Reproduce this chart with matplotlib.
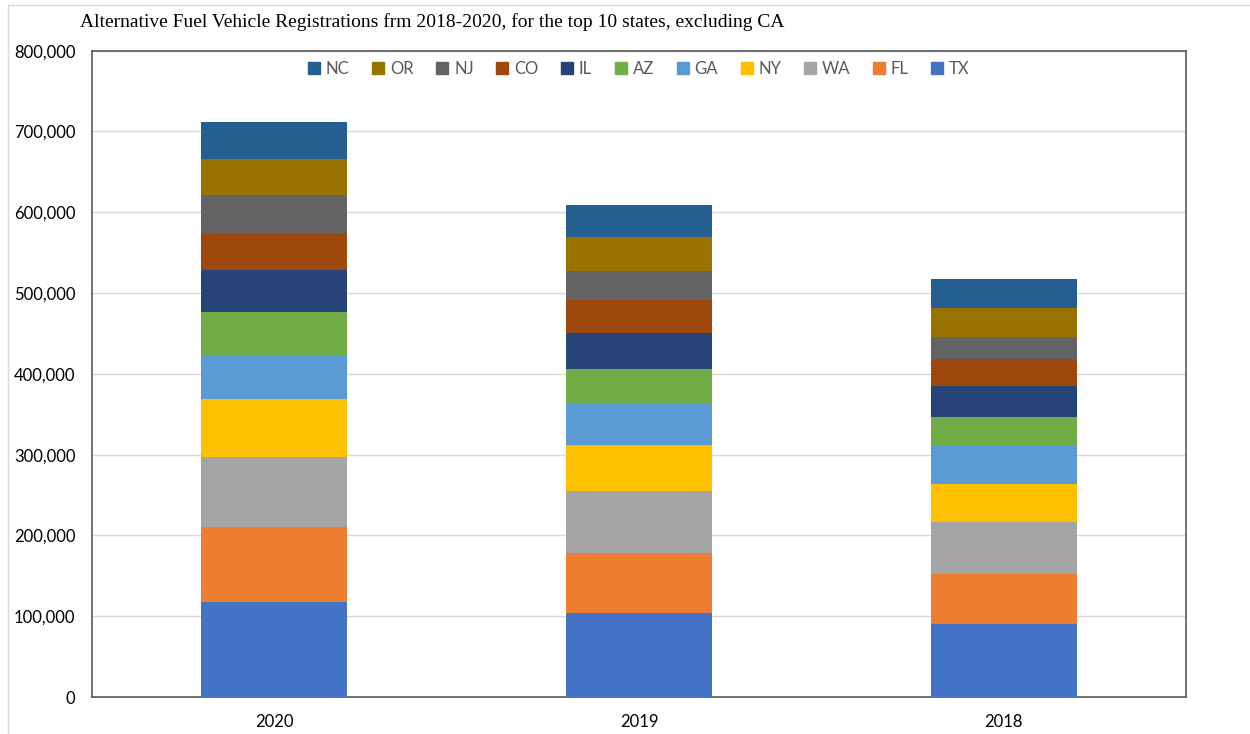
import matplotlib
matplotlib.use("Agg")
import matplotlib.pyplot as plt
from matplotlib.lines import Line2D
from matplotlib.ticker import FuncFormatter
import numpy as np

years = ["2020", "2019", "2018"]
states = ["TX", "FL", "WA", "NY", "GA", "AZ", "IL", "CO", "NJ", "OR", "NC"]

# registrations per state, ordered as the years list
TX = [117200, 103500, 90800]
FL = [93000, 75300, 61100]
WA = [87100, 76400, 65300]
NY = [71300, 57000, 46700]
GA = [54500, 50800, 46700]
AZ = [54000, 42700, 35600]
IL = [51400, 45000, 39200]
CO = [46200, 40900, 33100]
NJ = [46800, 35600, 27300]
OR = [45000, 41700, 36300]
NC = [45500, 39700, 35200]

series = [TX, FL, WA, NY, GA, AZ, IL, CO, NJ, OR, NC]
colors = ["#4472C4", "#ED7D31", "#A5A5A5", "#FFC000", "#5B9BD5", "#70AD47",
          "#264478", "#9E480E", "#636363", "#997300", "#255E91"]

fig = plt.figure(figsize=(12.5, 7.34), dpi=100)
ax = fig.add_axes([92 / 1250, 1 - 697 / 734, (1186 - 92) / 1250, (697 - 50.7) / 734])

x = np.arange(len(years))
bottom = np.zeros(len(years))
handles = []
for name, vals, col in zip(states, series, colors):
    ax.bar(x, vals, width=0.4, bottom=bottom, color=col, linewidth=0, zorder=3, label=name)
    bottom += np.array(vals)

ax.set_xlim(-0.5, len(years) - 0.5)
ax.set_ylim(0, 800000)
ax.set_yticks(np.arange(0, 800001, 100000))
ax.yaxis.set_major_formatter(FuncFormatter(lambda v, p: f"{int(v):,}"))
ax.set_xticks(x)
ax.set_xticklabels(years)
ax.grid(axis="y", color="#D9D9D9", linewidth=1, zorder=0)
ax.tick_params(axis="both", length=0, labelsize=12, colors="#000000")
ax.tick_params(axis="y", pad=12)
ax.tick_params(axis="x", pad=12)
for lab in ax.get_xticklabels() + ax.get_yticklabels():
    lab.set_family("Lato")
for s in ax.spines.values():
    s.set_color("#595959")
    s.set_linewidth(1.2)

# legend lists states from the top of the stack down
for name, col in zip(states[::-1], colors[::-1]):
    handles.append(Line2D([], [], marker="s", linestyle="none", markersize=8,
                          markerfacecolor=col, markeredgecolor=col, label=name))
leg = ax.legend(handles=handles, loc="upper center", bbox_to_anchor=(0.5, 1.007),
                ncol=len(states), frameon=False, handlelength=0.7, handletextpad=0.35,
                columnspacing=1.38, prop={"family": "Lato", "size": 12})
for t in leg.get_texts():
    t.set_color("#595959")

fig.text(80 / 1250, 1 - 22 / 734, "Alternative Fuel Vehicle Registrations frm 2018-2020, for the top 10 states, excluding CA",
         family="Liberation Serif", fontsize=14, va="center", ha="left")

# outer chart border
fig.add_artist(Line2D([7.5 / 1250, 1], [1 - 5 / 734, 1 - 5 / 734], color="#D9D9D9", linewidth=1))
fig.add_artist(Line2D([7.5 / 1250, 7.5 / 1250], [0, 1 - 5 / 734], color="#D9D9D9", linewidth=1))

fig.savefig("out.png", dpi=100)
